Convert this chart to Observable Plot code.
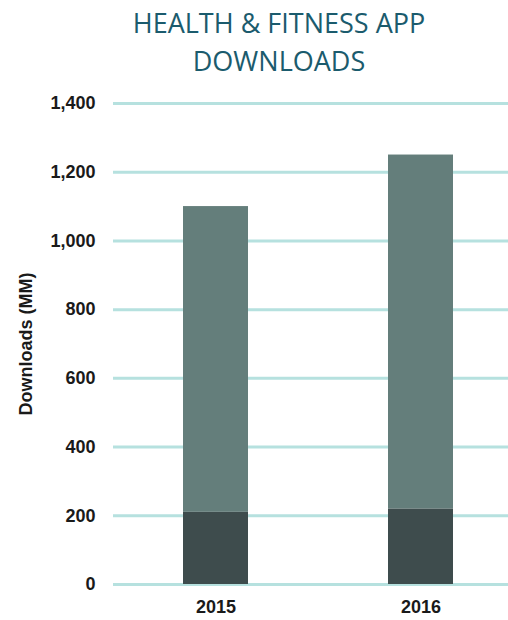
<!DOCTYPE html>
<html>
<head>
<meta charset="utf-8">
<script src="https://cdn.jsdelivr.net/npm/d3@7"></script>
<script src="https://cdn.jsdelivr.net/npm/@observablehq/plot@0.6"></script>
<style>
  body { margin: 0; background: #fff; }
  #title { font-family: "Open Sans", sans-serif; font-size: 27px; color: #1b5b6d; text-align: center; line-height: 38px; padding-left: 50px; padding-top: 4px; height: 76px; }
  #chart svg g[aria-label="y-axis label"] text { font-size: 18px; }
</style>
</head>
<body>
<div id="title">HEALTH &amp; FITNESS APP<br>DOWNLOADS</div>
<div id="chart"></div>
<script>
const years = ["2015", "2016"];
const baseValues = [210, 220];
const totalValues = [1100, 1250];
const yTicks = [0, 200, 400, 600, 800, 1000, 1200, 1400];
const segmentNames = ["base", "rest"];
const segmentColors = ["#3e4c4d", "#647e7b"];

const rows = [];
years.forEach((y, i) => {
  rows.push({year: y, segment: "base", value: baseValues[i]});
  rows.push({year: y, segment: "rest", value: totalValues[i] - baseValues[i]});
});

const chart = Plot.plot({
  width: 508,
  height: 540,
  marginTop: 23,
  marginBottom: 36,
  marginLeft: 113,
  marginRight: 0,
  style: { fontFamily: "'Liberation Sans', Arial, sans-serif", fontWeight: "bold", fontSize: "18px", color: "#1a1a1a" },
  x: { domain: years, paddingInner: 0.684, paddingOuter: 0.303, align: 0.56, label: null },
  y: { domain: [0, 1400], ticks: yTicks, label: null },
  color: { domain: segmentNames, range: segmentColors },
  marks: [
    Plot.ruleY(yTicks, { stroke: "#b6e1df", strokeWidth: 3 }),
    Plot.barY(rows, Plot.stackY({ x: "year", y: "value", fill: "segment", order: segmentNames })),
    Plot.axisY({ ticks: yTicks, tickSize: 0, tickPadding: 18, tickFormat: d3.format(","), label: "Downloads (MM)", labelAnchor: "center", labelArrow: "none", labelOffset: 94, fontSize: 18 }),
    Plot.axisX({ tickSize: 0, tickPadding: 16, label: null, fontSize: 18 })
  ]
});
document.getElementById("chart").appendChild(chart);
</script>
</body>
</html>
